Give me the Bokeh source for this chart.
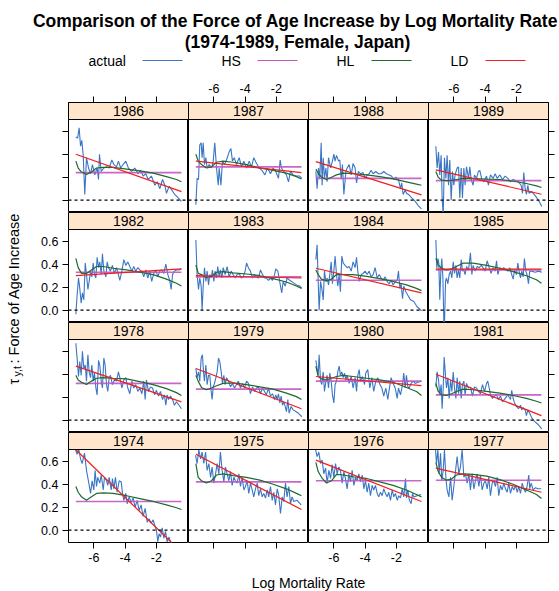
import math
from bokeh.plotting import figure
from bokeh.layouts import gridplot, column, row
from bokeh.models import Range1d, LinearAxis, FixedTicker, PrintfTickFormatter, Span
from bokeh.core.properties import value
from bokeh.embed import file_html
from bokeh.resources import INLINE

# ---------------- data ----------------
PANEL_ROWS = [[1986, 1987, 1988, 1989],
              [1982, 1983, 1984, 1985],
              [1978, 1979, 1980, 1981],
              [1974, 1975, 1976, 1977]]
X_TICKS = [-6, -4, -2]
Y_TICKS = [0.0, 0.2, 0.4, 0.6]
SERIES = ["actual", "HS", "HL", "LD"]

# actual (observed) force of age increase
x_1986 = [-7.15,-7.04,-6.94,-6.85,-6.77,-6.68,-6.58,-6.47,-6.34,-6.21,-6.09,-5.94,-5.79,-5.70,-5.64,-5.53,-5.36,-5.19,-5.02,-4.85,-4.72,-4.55,-4.43,-4.28,-4.13,-3.96,-3.79,-3.59,-3.38,-3.17,-3.02,-2.85,-2.68,-2.53,-2.32,-2.10,-1.95,-1.78,-1.61,-1.46,-1.36,-1.19,-1.02,-0.83,-0.61,-0.40]
y_1986 = [0.55,0.54,0.63,0.47,0.52,0.39,0.05,0.37,0.28,0.23,0.31,0.22,0.28,0.18,0.40,0.25,0.28,0.29,0.28,0.35,0.31,0.29,0.34,0.28,0.31,0.34,0.28,0.25,0.28,0.23,0.26,0.21,0.23,0.18,0.21,0.13,0.16,0.10,0.18,0.13,0.06,0.12,0.09,0.05,0.02,-0.01]

x_1987 = [-7.15,-7.07,-6.98,-6.90,-6.81,-6.75,-6.68,-6.60,-6.51,-6.43,-6.30,-6.15,-6.04,-5.94,-5.83,-5.72,-5.66,-5.55,-5.45,-5.32,-5.19,-5.02,-4.91,-4.81,-4.70,-4.55,-4.38,-4.23,-4.08,-3.91,-3.74,-3.59,-3.45,-3.27,-3.10,-2.93,-2.74,-2.57,-2.38,-2.21,-2.04,-1.87,-1.76,-1.68,-1.53,-1.36,-1.23,-1.10,-0.93,-0.72,-0.51,-0.38]
y_1987 = [-0.04,0.19,0.18,0.48,0.50,0.37,0.50,0.31,0.37,0.28,0.31,0.28,0.34,0.50,0.28,0.13,0.28,0.13,0.34,0.31,0.35,0.42,0.45,0.34,0.37,0.31,0.37,0.29,0.34,0.28,0.34,0.29,0.37,0.32,0.28,0.26,0.22,0.28,0.23,0.28,0.25,0.19,0.35,0.28,0.25,0.22,0.16,0.25,0.22,0.21,0.21,0.19]

x_1988 = [-7.15,-7.07,-6.98,-6.90,-6.81,-6.75,-6.68,-6.60,-6.51,-6.43,-6.34,-6.21,-6.09,-6.00,-5.92,-5.83,-5.70,-5.62,-5.53,-5.45,-5.36,-5.23,-5.15,-5.02,-4.89,-4.77,-4.64,-4.55,-4.43,-4.30,-4.13,-4.00,-3.87,-3.74,-3.62,-3.49,-3.32,-3.15,-2.98,-2.81,-2.64,-2.47,-2.32,-2.17,-2.04,-1.87,-1.74,-1.66,-1.57,-1.44,-1.36,-1.23,-1.02,-0.80,-0.59,-0.40]
y_1988 = [0.25,0.10,0.28,0.19,0.50,0.13,0.37,0.19,0.28,0.16,0.37,0.28,0.34,0.40,0.34,0.39,0.34,0.35,0.18,0.31,0.05,0.25,0.28,0.31,0.22,0.32,0.28,0.15,0.25,0.23,0.24,0.19,0.22,0.23,0.26,0.23,0.25,0.23,0.23,0.25,0.23,0.22,0.21,0.18,0.20,0.18,0.10,0.15,0.05,0.09,0.06,0.05,0.02,-0.01,-0.05,-0.075]

x_1989 = [-7.15,-7.07,-6.98,-6.90,-6.81,-6.75,-6.68,-6.60,-6.51,-6.43,-6.34,-6.26,-6.17,-6.09,-6.00,-5.92,-5.79,-5.70,-5.62,-5.53,-5.45,-5.36,-5.28,-5.19,-5.06,-4.98,-4.89,-4.77,-4.68,-4.55,-4.43,-4.34,-4.21,-4.08,-3.91,-3.79,-3.66,-3.49,-3.36,-3.23,-3.06,-2.89,-2.72,-2.55,-2.38,-2.21,-2.04,-1.87,-1.70,-1.61,-1.53,-1.44,-1.36,-1.27,-1.19,-1.02,-0.80,-0.59,-0.38]
y_1989 = [0.47,0.28,0.42,0.22,0.39,0.02,-0.13,0.37,0.19,0.39,0.13,0.35,0.0,0.25,0.13,0.22,0.28,0.29,0.02,0.28,0.02,0.28,0.13,0.29,0.19,0.29,0.18,0.13,0.22,0.19,0.25,0.26,0.18,0.16,0.21,0.13,0.22,0.19,0.23,0.19,0.22,0.18,0.21,0.19,0.16,0.18,0.17,0.16,0.13,0.06,0.24,0.10,0.05,0.13,0.06,0.075,0.04,0.0,-0.055]

x_1982 = [-7.15,-7.07,-6.98,-6.90,-6.81,-6.73,-6.64,-6.55,-6.47,-6.38,-6.30,-6.21,-6.13,-6.04,-5.96,-5.87,-5.79,-5.70,-5.62,-5.53,-5.45,-5.36,-5.23,-5.15,-5.06,-4.94,-4.81,-4.68,-4.55,-4.43,-4.34,-4.21,-4.08,-3.96,-3.83,-3.70,-3.57,-3.45,-3.32,-3.19,-3.06,-2.93,-2.81,-2.68,-2.55,-2.42,-2.30,-2.17,-2.04,-1.91,-1.78,-1.66,-1.53,-1.40,-1.27,-1.15,-1.06,-0.97,-0.85,-0.72,-0.55,-0.40]
y_1982 = [-0.035,0.13,0.28,0.19,0.06,0.15,0.09,0.41,0.31,0.18,0.25,0.34,0.29,0.41,0.31,0.28,0.46,0.37,0.42,0.31,0.49,0.34,0.29,0.42,0.37,0.34,0.39,0.32,0.37,0.31,0.26,0.34,0.44,0.39,0.42,0.38,0.34,0.38,0.34,0.37,0.35,0.34,0.29,0.35,0.28,0.34,0.25,0.32,0.35,0.29,0.34,0.35,0.32,0.40,0.31,0.26,0.18,0.31,0.34,0.35,0.35,0.36]

x_1983 = [-7.15,-7.07,-6.98,-6.90,-6.81,-6.75,-6.68,-6.60,-6.51,-6.43,-6.34,-6.26,-6.17,-6.09,-6.00,-5.92,-5.83,-5.75,-5.66,-5.58,-5.49,-5.40,-5.28,-5.15,-5.02,-4.89,-4.77,-4.64,-4.51,-4.38,-4.25,-4.13,-4.00,-3.91,-3.79,-3.66,-3.53,-3.40,-3.27,-3.15,-3.02,-2.89,-2.76,-2.64,-2.51,-2.38,-2.25,-2.12,-2.04,-1.91,-1.83,-1.74,-1.66,-1.57,-1.44,-1.32,-1.15,-0.93,-0.72,-0.51,-0.38]
y_1983 = [0.61,0.31,0.18,0.28,0.21,0.0,0.21,0.37,0.25,0.34,0.22,0.31,0.28,0.35,0.25,0.34,0.28,0.38,0.29,0.35,0.28,0.37,0.31,0.38,0.29,0.34,0.31,0.28,0.31,0.32,0.28,0.29,0.34,0.41,0.37,0.34,0.28,0.31,0.29,0.28,0.35,0.31,0.28,0.28,0.26,0.28,0.26,0.31,0.36,0.34,0.28,0.21,0.15,0.25,0.21,0.28,0.26,0.24,0.22,0.21,0.19]

x_1984 = [-7.15,-7.07,-7.00,-6.94,-6.85,-6.77,-6.68,-6.60,-6.51,-6.43,-6.34,-6.26,-6.17,-6.09,-6.00,-5.92,-5.83,-5.75,-5.66,-5.58,-5.49,-5.40,-5.28,-5.15,-5.02,-4.89,-4.77,-4.64,-4.55,-4.47,-4.38,-4.25,-4.13,-4.00,-3.87,-3.74,-3.62,-3.49,-3.36,-3.23,-3.10,-2.98,-2.85,-2.72,-2.59,-2.47,-2.34,-2.21,-2.08,-1.95,-1.87,-1.78,-1.70,-1.61,-1.53,-1.40,-1.27,-1.10,-0.89,-0.68,-0.40]
y_1984 = [0.44,0.57,0.25,0.0,0.25,0.19,0.09,0.34,0.25,0.28,0.22,0.31,0.42,0.23,0.34,0.47,0.31,0.21,0.31,0.16,0.47,0.41,0.39,0.37,0.38,0.34,0.42,0.37,0.46,0.34,0.25,0.31,0.32,0.34,0.31,0.34,0.29,0.31,0.37,0.28,0.31,0.28,0.26,0.29,0.25,0.23,0.26,0.22,0.25,0.26,0.34,0.19,0.23,0.10,0.21,0.16,0.13,0.09,0.075,0.03,-0.005]

x_1985 = [-7.15,-7.09,-7.02,-6.96,-6.90,-6.83,-6.77,-6.70,-6.64,-6.60,-6.53,-6.47,-6.38,-6.30,-6.21,-6.13,-6.04,-5.96,-5.87,-5.79,-5.70,-5.62,-5.53,-5.45,-5.36,-5.28,-5.19,-5.06,-4.94,-4.85,-4.77,-4.64,-4.51,-4.38,-4.25,-4.13,-4.00,-3.87,-3.74,-3.62,-3.49,-3.36,-3.27,-3.19,-3.06,-2.93,-2.81,-2.68,-2.55,-2.42,-2.30,-2.21,-2.12,-2.00,-1.91,-1.83,-1.74,-1.66,-1.57,-1.49,-1.40,-1.32,-1.23,-1.15,-1.02,-0.80,-0.59,-0.38]
y_1985 = [0.61,0.365,0.45,0.41,0.09,0.34,0.45,0.28,-0.10,-0.13,0.25,0.28,0.23,0.31,0.34,0.28,0.42,0.32,0.39,0.28,0.35,0.28,0.44,0.34,0.35,0.31,0.38,0.35,0.50,0.31,0.39,0.34,0.38,0.37,0.39,0.37,0.34,0.43,0.37,0.32,0.37,0.34,0.43,0.31,0.37,0.35,0.37,0.35,0.34,0.37,0.31,0.27,0.35,0.31,0.41,0.34,0.28,0.34,0.29,0.45,0.34,0.31,0.23,0.34,0.34,0.33,0.34,0.33]

x_1978 = [-7.15,-7.07,-6.98,-6.90,-6.81,-6.73,-6.64,-6.55,-6.47,-6.38,-6.30,-6.21,-6.13,-6.04,-5.96,-5.87,-5.79,-5.70,-5.62,-5.53,-5.45,-5.36,-5.28,-5.19,-5.11,-5.02,-4.94,-4.81,-4.68,-4.55,-4.43,-4.34,-4.21,-4.08,-3.96,-3.83,-3.70,-3.57,-3.45,-3.32,-3.19,-3.06,-2.93,-2.81,-2.72,-2.64,-2.51,-2.38,-2.25,-2.12,-2.00,-1.87,-1.74,-1.61,-1.49,-1.40,-1.32,-1.23,-1.10,-0.97,-0.85,-0.72,-0.55,-0.40]
y_1978 = [0.67,0.54,0.38,0.51,0.39,0.60,0.45,0.48,0.34,0.57,0.42,0.37,0.48,0.34,0.41,0.28,0.22,0.52,0.48,0.34,0.28,0.54,0.48,0.31,0.25,0.37,0.39,0.31,0.35,0.34,0.42,0.37,0.28,0.35,0.37,0.28,0.23,0.34,0.28,0.31,0.25,0.28,0.23,0.34,0.18,0.35,0.25,0.29,0.28,0.22,0.26,0.21,0.25,0.18,0.22,0.13,0.22,0.18,0.21,0.18,0.13,0.16,0.13,0.10]

x_1979 = [-7.15,-7.07,-6.98,-6.90,-6.81,-6.73,-6.66,-6.60,-6.51,-6.43,-6.34,-6.26,-6.17,-6.11,-6.04,-5.96,-5.87,-5.79,-5.70,-5.62,-5.53,-5.45,-5.36,-5.28,-5.19,-5.06,-4.94,-4.81,-4.68,-4.55,-4.43,-4.30,-4.17,-4.04,-3.91,-3.79,-3.66,-3.53,-3.40,-3.27,-3.15,-3.02,-2.89,-2.76,-2.64,-2.51,-2.38,-2.25,-2.12,-2.04,-1.95,-1.87,-1.78,-1.70,-1.61,-1.53,-1.44,-1.36,-1.27,-1.19,-1.06,-0.93,-0.76,-0.59,-0.38]
y_1979 = [0.45,0.37,0.42,0.34,0.54,0.57,0.42,0.34,0.48,0.31,0.39,0.39,0.25,0.18,0.29,0.32,0.37,0.42,0.54,0.51,0.42,0.32,0.39,0.31,0.37,0.34,0.29,0.32,0.28,0.31,0.34,0.28,0.32,0.28,0.34,0.32,0.23,0.29,0.25,0.28,0.29,0.23,0.28,0.25,0.22,0.28,0.21,0.23,0.18,0.22,0.18,0.23,0.15,0.21,0.13,0.16,0.12,0.075,0.18,0.06,0.12,0.09,0.075,0.06,0.03]

x_1980 = [-7.15,-7.07,-7.00,-6.94,-6.85,-6.77,-6.68,-6.60,-6.51,-6.43,-6.34,-6.26,-6.17,-6.09,-6.00,-5.92,-5.83,-5.75,-5.66,-5.58,-5.49,-5.40,-5.32,-5.23,-5.15,-5.02,-4.89,-4.77,-4.64,-4.55,-4.47,-4.38,-4.30,-4.17,-4.04,-3.96,-3.83,-3.70,-3.57,-3.45,-3.32,-3.19,-3.06,-2.93,-2.81,-2.68,-2.55,-2.47,-2.34,-2.21,-2.08,-1.95,-1.87,-1.74,-1.61,-1.53,-1.44,-1.36,-1.27,-1.19,-1.06,-0.93,-0.80,-0.63,-0.40]
y_1980 = [0.52,0.45,0.39,0.57,0.34,0.31,0.42,0.25,0.34,0.39,0.28,0.41,0.34,0.22,0.15,0.31,0.34,0.42,0.47,0.39,0.42,0.37,0.41,0.35,0.39,0.32,0.38,0.28,0.37,0.25,0.39,0.44,0.34,0.38,0.31,0.41,0.44,0.28,0.37,0.25,0.34,0.37,0.31,0.28,0.21,0.28,0.18,0.26,0.37,0.32,0.28,0.19,0.28,0.22,0.31,0.41,0.28,0.39,0.29,0.28,0.32,0.34,0.32,0.33,0.34]

x_1981 = [-7.15,-7.07,-6.98,-6.90,-6.81,-6.75,-6.68,-6.62,-6.55,-6.47,-6.38,-6.30,-6.21,-6.13,-6.04,-5.96,-5.87,-5.79,-5.70,-5.62,-5.53,-5.45,-5.36,-5.28,-5.19,-5.06,-4.94,-4.81,-4.68,-4.55,-4.43,-4.30,-4.17,-4.04,-3.91,-3.83,-3.74,-3.66,-3.53,-3.40,-3.27,-3.15,-3.02,-2.89,-2.72,-2.55,-2.38,-2.30,-2.21,-2.12,-2.00,-1.87,-1.74,-1.66,-1.57,-1.44,-1.36,-1.27,-1.15,-1.02,-0.85,-0.63,-0.38]
y_1981 = [0.29,0.42,0.35,0.22,0.31,0.10,0.28,0.55,0.42,0.28,0.37,0.19,0.35,0.25,0.42,0.28,0.19,0.37,0.23,0.34,0.19,0.31,0.34,0.22,0.32,0.28,0.29,0.21,0.29,0.28,0.25,0.23,0.31,0.25,0.32,0.34,0.28,0.22,0.19,0.21,0.22,0.18,0.21,0.16,0.19,0.22,0.18,0.26,0.19,0.15,0.12,0.10,0.13,0.09,0.11,0.09,0.04,0.09,0.06,0.02,-0.01,-0.035,-0.075]

x_1974 = [-7.17,-7.07,-6.96,-6.85,-6.75,-6.60,-6.47,-6.32,-6.21,-6.11,-6.00,-5.92,-5.83,-5.75,-5.62,-5.53,-5.40,-5.32,-5.19,-5.11,-5.02,-4.89,-4.81,-4.72,-4.62,-4.51,-4.38,-4.25,-4.17,-4.08,-3.96,-3.87,-3.74,-3.62,-3.49,-3.36,-3.23,-3.10,-2.98,-2.85,-2.72,-2.59,-2.47,-2.34,-2.21,-2.08,-2.00,-1.91,-1.83,-1.74,-1.63,-1.53,-1.42,-1.32,-1.19,-1.06,-0.78,-0.42]
y_1974 = [0.70,0.66,0.70,0.62,0.58,0.67,0.52,0.41,0.32,0.43,0.35,0.52,0.38,0.46,0.41,0.48,0.35,0.46,0.43,0.39,0.46,0.35,0.45,0.36,0.46,0.33,0.43,0.42,0.32,0.26,0.32,0.23,0.29,0.24,0.28,0.20,0.26,0.17,0.22,0.12,0.19,0.07,0.10,0.06,0.09,0.03,0.0,-0.10,-0.03,-0.06,0.02,-0.07,-0.01,-0.10,-0.06,-0.12,-0.16,-0.22]

x_1975 = [-7.17,-7.07,-6.96,-6.85,-6.75,-6.64,-6.53,-6.43,-6.32,-6.21,-6.11,-6.00,-5.89,-5.79,-5.68,-5.58,-5.47,-5.36,-5.26,-5.15,-5.04,-4.94,-4.83,-4.72,-4.62,-4.51,-4.40,-4.30,-4.19,-4.08,-3.98,-3.87,-3.77,-3.66,-3.55,-3.45,-3.34,-3.23,-3.13,-3.02,-2.91,-2.81,-2.70,-2.59,-2.49,-2.38,-2.27,-2.17,-2.06,-1.95,-1.85,-1.74,-1.63,-1.53,-1.42,-1.32,-1.21,-1.10,-1.00,-0.89,-0.68,-0.42]
y_1975 = [0.65,0.58,0.70,0.62,0.68,0.58,0.68,0.52,0.58,0.46,0.55,0.41,0.49,0.58,0.49,0.68,0.52,0.42,0.55,0.49,0.43,0.51,0.39,0.46,0.43,0.41,0.49,0.38,0.46,0.35,0.38,0.43,0.32,0.41,0.35,0.29,0.36,0.41,0.30,0.36,0.29,0.32,0.28,0.35,0.29,0.38,0.26,0.33,0.22,0.36,0.30,0.145,0.29,0.25,0.41,0.29,0.38,0.23,0.29,0.25,0.26,0.22]

x_1976 = [-7.17,-7.07,-6.96,-6.85,-6.75,-6.64,-6.53,-6.43,-6.32,-6.21,-6.11,-6.00,-5.89,-5.79,-5.68,-5.58,-5.47,-5.36,-5.26,-5.15,-5.04,-4.94,-4.83,-4.72,-4.62,-4.51,-4.40,-4.30,-4.19,-4.08,-3.98,-3.87,-3.77,-3.66,-3.55,-3.45,-3.34,-3.23,-3.13,-3.02,-2.91,-2.81,-2.70,-2.59,-2.49,-2.38,-2.27,-2.17,-2.06,-1.95,-1.85,-1.74,-1.63,-1.53,-1.42,-1.36,-1.27,-1.17,-1.06,-0.97,-0.89,-0.68,-0.42]
y_1976 = [0.70,0.64,0.68,0.58,0.61,0.49,0.54,0.41,0.52,0.45,0.57,0.46,0.58,0.49,0.55,0.52,0.41,0.51,0.45,0.36,0.49,0.42,0.52,0.39,0.46,0.43,0.49,0.42,0.48,0.36,0.43,0.33,0.41,0.30,0.39,0.35,0.39,0.32,0.29,0.33,0.30,0.36,0.32,0.29,0.33,0.26,0.35,0.29,0.32,0.26,0.30,0.28,0.36,0.29,0.45,0.28,0.35,0.26,0.23,0.32,0.29,0.30,0.31]

x_1977 = [-7.17,-7.11,-7.02,-6.94,-6.85,-6.77,-6.68,-6.60,-6.51,-6.43,-6.32,-6.21,-6.11,-6.00,-5.89,-5.79,-5.68,-5.58,-5.47,-5.36,-5.26,-5.15,-5.04,-4.94,-4.83,-4.72,-4.62,-4.51,-4.40,-4.30,-4.19,-4.08,-3.98,-3.87,-3.77,-3.66,-3.55,-3.45,-3.34,-3.23,-3.13,-3.02,-2.91,-2.81,-2.70,-2.59,-2.49,-2.38,-2.27,-2.17,-2.06,-1.95,-1.85,-1.74,-1.63,-1.53,-1.42,-1.32,-1.21,-1.15,-1.06,-0.93,-0.78,-0.63,-0.42]
y_1977 = [0.70,0.58,0.70,0.49,0.67,0.43,0.52,0.70,0.46,0.35,0.29,0.46,0.26,0.38,0.52,0.64,0.49,0.55,0.70,0.46,0.49,0.41,0.49,0.35,0.49,0.36,0.43,0.49,0.38,0.48,0.35,0.41,0.43,0.36,0.46,0.30,0.41,0.43,0.38,0.46,0.30,0.39,0.35,0.41,0.36,0.33,0.41,0.32,0.38,0.35,0.39,0.33,0.38,0.32,0.41,0.36,0.33,0.38,0.48,0.36,0.41,0.35,0.37,0.36,0.36]

ACTUAL = {
    1986: (x_1986, y_1986), 1987: (x_1987, y_1987), 1988: (x_1988, y_1988), 1989: (x_1989, y_1989),
    1982: (x_1982, y_1982), 1983: (x_1983, y_1983), 1984: (x_1984, y_1984), 1985: (x_1985, y_1985),
    1978: (x_1978, y_1978), 1979: (x_1979, y_1979), 1980: (x_1980, y_1980), 1981: (x_1981, y_1981),
    1974: (x_1974, y_1974), 1975: (x_1975, y_1975), 1976: (x_1976, y_1976), 1977: (x_1977, y_1977),
}

# HL (smooth) fitted curves, read at a common set of log-mortality values
hl_x = [-7.15, -7.0, -6.79, -6.47, -6.15, -5.83, -5.40, -4.77, -3.91, -3.06, -2.21, -1.36, -0.72, -0.40]
hl_1986 = [0.34,0.28,0.245,0.225,0.245,0.28,0.285,0.285,0.27,0.255,0.235,0.205,0.18,0.16]
hl_1987 = [0.40,0.34,0.31,0.28,0.29,0.33,0.34,0.33,0.31,0.28,0.26,0.235,0.205,0.185]
hl_1988 = [0.27,0.235,0.20,0.18,0.20,0.22,0.235,0.23,0.22,0.205,0.185,0.16,0.14,0.13]
hl_1989 = [0.25,0.20,0.175,0.17,0.172,0.18,0.19,0.188,0.183,0.18,0.165,0.145,0.125,0.11]
hl_1982 = [0.45,0.37,0.32,0.32,0.35,0.38,0.38,0.365,0.35,0.33,0.31,0.27,0.235,0.21]
hl_1983 = [0.395,0.32,0.31,0.285,0.295,0.33,0.335,0.325,0.315,0.30,0.275,0.245,0.21,0.19]
hl_1984 = [0.35,0.31,0.27,0.255,0.27,0.31,0.31,0.31,0.295,0.275,0.25,0.22,0.19,0.17]
hl_1985 = [0.45,0.395,0.365,0.35,0.36,0.38,0.41,0.41,0.39,0.365,0.335,0.30,0.265,0.235]
hl_1978 = [0.39,0.35,0.33,0.31,0.34,0.365,0.37,0.365,0.36,0.335,0.31,0.275,0.24,0.215]
hl_1979 = [0.39,0.34,0.285,0.265,0.28,0.30,0.32,0.325,0.31,0.29,0.27,0.235,0.205,0.18]
hl_1980 = [0.47,0.38,0.36,0.35,0.365,0.38,0.39,0.38,0.365,0.35,0.33,0.285,0.25,0.215]
hl_1981 = [0.32,0.25,0.22,0.215,0.23,0.25,0.27,0.265,0.25,0.235,0.215,0.19,0.165,0.15]
hl_1974 = [0.38,0.33,0.29,0.26,0.29,0.32,0.325,0.32,0.30,0.275,0.25,0.22,0.195,0.18]
hl_1975 = [0.58,0.46,0.43,0.41,0.43,0.48,0.49,0.475,0.46,0.435,0.40,0.36,0.32,0.30]
hl_1976 = [0.59,0.51,0.46,0.41,0.43,0.485,0.48,0.465,0.45,0.42,0.39,0.35,0.31,0.29]
hl_1977 = [0.59,0.51,0.46,0.435,0.445,0.48,0.49,0.485,0.47,0.44,0.40,0.35,0.31,0.275]
HL = {1986: hl_1986, 1987: hl_1987, 1988: hl_1988, 1989: hl_1989,
      1982: hl_1982, 1983: hl_1983, 1984: hl_1984, 1985: hl_1985,
      1978: hl_1978, 1979: hl_1979, 1980: hl_1980, 1981: hl_1981,
      1974: hl_1974, 1975: hl_1975, 1976: hl_1976, 1977: hl_1977}

# HS (constant) and LD (linear) fits: value at the low and high end of the x span
fit_x = [-7.15, -0.40]
hs_value = {1986: 0.24, 1987: 0.29, 1988: 0.19, 1989: 0.17,
            1982: 0.33, 1983: 0.29, 1984: 0.26, 1985: 0.35,
            1978: 0.32, 1979: 0.27, 1980: 0.34, 1981: 0.22,
            1974: 0.25, 1975: 0.42, 1976: 0.43, 1977: 0.435}
ld_start = {1986: 0.40, 1987: 0.34, 1988: 0.336, 1989: 0.264,
            1982: 0.30, 1983: 0.30, 1984: 0.365, 1985: 0.357,
            1978: 0.47, 1979: 0.45, 1980: 0.38, 1981: 0.40,
            1974: 0.70, 1975: 0.66, 1976: 0.61, 1977: 0.54}
ld_end = {1986: 0.075, 1987: 0.24, 1988: 0.046, 1989: 0.052,
          1982: 0.36, 1983: 0.28, 1984: 0.15, 1985: 0.357,
          1978: 0.16, 1979: 0.10, 1980: 0.30, 1981: 0.04,
          1974: -0.19, 1975: 0.18, 1976: 0.25, 1977: 0.33}

# ---------------- styling ----------------
FONT = "Liberation Sans"
C_ACT, C_HS, C_HL, C_LD = "#3A76C4", "#C355C3", "#1E6A2E", "#F21D1D"
STRIP_FILL = "#FFE5CC"
X_LIM = (-7.62, 0.05)
Y_LIM = (-0.107, 0.702)
FRAME_W, PANEL_H, STRIP_H = 120, 93, 17
Y_TOP = Y_LIM[1] + (Y_LIM[1] - Y_LIM[0]) * STRIP_H / PANEL_H
LEFT_B, RIGHT_B, TOP_B, BOTTOM_B = 44, 11, 30, 30
HEADER_H, FOOTER_H, YLAB_W = 72, 19, 24


def add_axis(p, side, ticks, fmt, show):
    ax = LinearAxis(ticker=FixedTicker(ticks=ticks),
                    formatter=PrintfTickFormatter(format=fmt),
                    axis_line_color=None,
                    major_tick_line_color="black", major_tick_line_width=1,
                    major_tick_in=0, major_tick_out=6,
                    minor_tick_line_color=None,
                    major_label_text_font=FONT,
                    major_label_text_color="black",
                    major_label_text_font_size="12.5px" if show else "0px",
                    major_label_text_alpha=1.0 if show else 0.0,
                    major_label_standoff=4 if show else 0)
    p.add_layout(ax, side)


def make_panel(r, c, year):
    bl = LEFT_B if c == 0 else 0
    br = RIGHT_B if c == 3 else 0
    bt = TOP_B if r == 0 else 0
    bb = BOTTOM_B if r == 3 else 0
    fh = PANEL_H + STRIP_H
    p = figure(width=FRAME_W + bl + br, height=fh + bt + bb,
               frame_width=FRAME_W, frame_height=fh,
               x_range=Range1d(*X_LIM), y_range=Range1d(Y_LIM[0], Y_TOP),
               x_axis_location=None, y_axis_location=None,
               toolbar_location=None, output_backend="svg",
               min_border=0, min_border_left=bl, min_border_right=br,
               min_border_top=bt, min_border_bottom=bb)
    p.grid.visible = False
    p.outline_line_color = "black"
    p.outline_line_width = 1
    p.background_fill_color = "white"
    p.border_fill_color = "white"

    ax_x, ax_y = ACTUAL[year]
    n = min(len(ax_x), len(ax_y))
    p.line(ax_x[:n], ax_y[:n], line_color=C_ACT, line_width=1.1)
    p.line(fit_x, [hs_value[year], hs_value[year]], line_color=C_HS, line_width=1.6, line_alpha=0.9)
    p.line(hl_x, HL[year], line_color=C_HL, line_width=1.2)
    p.line(fit_x, [ld_start[year], ld_end[year]], line_color=C_LD, line_width=1.2)

    p.add_layout(Span(location=0, dimension="width", line_color="black",
                      line_dash="3 3", line_width=1.3))

    # strip
    p.quad(left=X_LIM[0], right=X_LIM[1], bottom=Y_LIM[1], top=Y_TOP,
           fill_color=STRIP_FILL, line_color="black", line_width=1, level="overlay")
    p.text(x=[(X_LIM[0] + X_LIM[1]) / 2], y=[(Y_LIM[1] + Y_TOP) / 2], text=[str(year)],
           text_align="center", text_baseline="middle", text_color="black",
           text_font=value(FONT), text_font_size="14px", level="overlay")

    if c == 0:
        add_axis(p, "left", Y_TICKS, "%.1f", r in (1, 3))
    if c == 3:
        add_axis(p, "right", Y_TICKS, "%.1f", False)
    if r == 0:
        add_axis(p, "above", X_TICKS, "%d", c in (1, 3))
    if r == 3:
        add_axis(p, "below", X_TICKS, "%d", c in (0, 2))
    return p


def blank(w, h, xr, yr):
    p = figure(width=w, height=h, x_range=Range1d(*xr), y_range=Range1d(*yr),
               x_axis_location=None, y_axis_location=None,
               toolbar_location=None, output_backend="svg", min_border=0)
    p.grid.visible = False
    p.outline_line_color = None
    p.background_fill_color = "white"
    p.border_fill_color = "white"
    return p


panels = [[make_panel(r, c, yr) for c, yr in enumerate(rw)] for r, rw in enumerate(PANEL_ROWS)]
grid = gridplot(panels, toolbar_location=None)

# header: title + legend
W = FRAME_W * 4 + LEFT_B + RIGHT_B + YLAB_W
header = blank(W, HEADER_H, (0, W), (HEADER_H, 0))
header.text(x=[295, 297], y=[20, 41],
            text=["Comparison of the Force of Age Increase by Log Mortality Rate",
                  "(1974-1989, Female, Japan)"],
            text_align="center", text_baseline="middle", text_color="black",
            text_font=value(FONT), text_font_style="bold", text_font_size="17.5px")
leg_text_x = [88, 221, 336, 450]
leg_line_x0 = [142, 257, 371, 485]
leg_line_len = 40
header.text(x=leg_text_x, y=[60] * 4, text=SERIES, text_align="left", text_baseline="middle",
            text_color="black", text_font=value(FONT), text_font_size="14px")
header.segment(x0=leg_line_x0, y0=[60] * 4, x1=[v + leg_line_len for v in leg_line_x0], y1=[60] * 4,
               line_color=[C_ACT, C_HS, C_HL, C_LD], line_width=1.2)

# y label
GRID_H = (PANEL_H + STRIP_H) * 4 + TOP_B + BOTTOM_B
ylab = blank(YLAB_W, GRID_H, (0, YLAB_W), (0, GRID_H))
y0 = 188
ylab.text(x=[13], y=[y0], text=["τ"], angle=math.pi / 2, text_align="left", text_baseline="middle",
          text_color="black", text_font=value(FONT), text_font_size="14.5px")
ylab.text(x=[16.5], y=[y0 + 8], text=["y,t"], angle=math.pi / 2, text_align="left", text_baseline="middle",
          text_color="black", text_font=value(FONT), text_font_size="10.5px")
ylab.text(x=[13], y=[y0 + 21], text=[" : Force of Age Increase"], angle=math.pi / 2, text_align="left",
          text_baseline="middle", text_color="black", text_font=value(FONT), text_font_size="14.5px")

# x label
footer = blank(W, FOOTER_H, (0, W), (FOOTER_H, 0))
footer.text(x=[308], y=[10], text=["Log Mortality Rate"], text_align="center", text_baseline="middle",
            text_color="black", text_font=value(FONT), text_font_size="14px")

layout = column(header, row(ylab, grid), footer)
open("out.html", "w").write(file_html(layout, INLINE))
